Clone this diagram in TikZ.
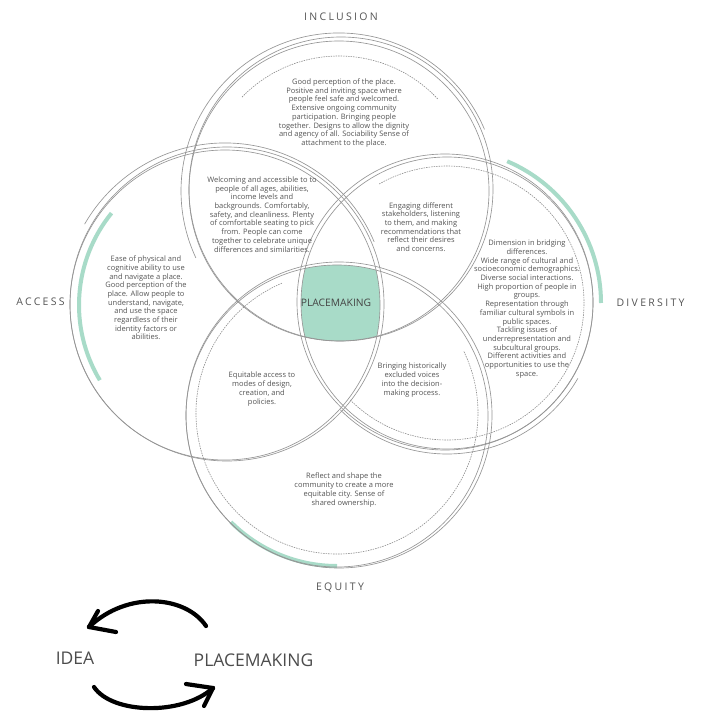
\documentclass[tikz,border=0pt]{standalone}
\usepackage{fontspec}
\setmainfont{Open Sans}
\newfontfamily\spacedfont[LetterSpace=22]{Open Sans}
\usetikzlibrary{arrows.meta}
\definecolor{mint}{HTML}{A8DBC8}
\definecolor{linegray}{HTML}{969696}
\definecolor{dashgray}{HTML}{8E8E8E}
\definecolor{txtgray}{HTML}{555555}
\begin{document}
\begin{tikzpicture}[x=1pt,y=-1pt,
  ring/.style={draw=linegray, line width=0.65pt},
  dashring/.style={draw=dashgray, line width=0.6pt, dash pattern=on 1.5pt off 1pt},
  greenarc/.style={draw=mint, line width=4pt},
  body/.style={align=center, text=txtgray, font=\fontsize{7.5}{8.7}\selectfont, inner sep=0pt},
  lab/.style={text=txtgray, font=\spacedfont\fontsize{10.5}{12}\selectfont, inner sep=0pt},
  big/.style={text=txtgray!90!black, font=\fontsize{17.5}{20}\selectfont, inner sep=0pt},
  cyc/.style={line width=4.2pt, line cap=round, line join=round},
]
\useasboundingbox (0,0) rectangle (701,711);
\fill[white] (0,0) rectangle (701,711);

\coordinate (cI) at (339,191);
\coordinate (cA) at (225,305);
\coordinate (cD) at (447,303);
\coordinate (cE) at (337,416);

% central intersection
\begin{scope}
  \clip (cA) circle[radius=155];
  \clip (cD) circle[radius=146];
  \clip (cE) circle[radius=151];
  \fill[mint] (cI) circle[radius=150];
\end{scope}

% green arcs
\draw[greenarc] (cA) ++(-141:146) arc[start angle=-141, end angle=-211, radius=146];
\draw[greenarc] (cD) ++(0:154) arc[start angle=0, end angle=-67, radius=154];
\draw[greenarc] (cE) ++(-225:150) arc[start angle=-225, end angle=-270, radius=150];

% main double circles
\draw[ring] (cI) circle[radius=150];
\draw[ring] (341,189) circle[radius=152];
\draw[ring] (cA) circle[radius=155];
\draw[ring] (227,304) circle[radius=157];
\draw[ring] (cD) circle[radius=146];
\draw[ring] (445,302) circle[radius=148];
\draw[ring] (cE) circle[radius=151];
\draw[ring] (339,415) circle[radius=153];

% extra outer arcs
\draw[ring, line cap=round] (cI) ++(-23:158) arc[start angle=-23, end angle=-205, radius=158];
\draw[ring, line cap=round] (cA) ++(-23:162) arc[start angle=-23, end angle=-150, radius=162];
\draw[ring, line cap=round] (cD) ++(-225:151) arc[start angle=-225, end angle=-330, radius=151];

% dashed inner arcs
\draw[dashring] (cI) ++(-43:135) arc[start angle=-43, end angle=-136, radius=135];
\draw[dashring] (cD) ++(-225:137) arc[start angle=-225, end angle=-480, radius=137];
\draw[dashring] (337,413) ++(-113:141) arc[start angle=-113, end angle=-386, radius=141];

% labels
\node[lab] (lInc) at (341,16.5) {INCLUSION};
\node[lab] (lAcc) at (40.5,302) {ACCESS};
\node[lab] (lDiv) at (650.5,303) {DIVERSITY};
\node[lab] (lEq) at (340,588) {EQUITY};

\node[text=txtgray!80!black, font=\fontsize{10.3}{12}\selectfont, inner sep=0pt] (pm) at (336,303) {PLACEMAKING};

% texts
\node[body] (tInc) at (344,113) {Good perception of the place.\\ Positive and inviting space where\\ people feel safe and welcomed.\\ Extensive ongoing community\\ participation. Bringing people\\ together. Designs to allow the dignity\\ and agency of all. Sociability Sense of\\ attachment to the place.};
\node[body] (tIA) at (262,214.5) {Welcoming and accessible to to\\ people of all ages, abilities,\\ income levels and\\ backgrounds. Comfortably,\\ safety, and cleanliness. Plenty\\ of comfortable seating to pick\\ from. People can come\\ together to celebrate unique\\ differences and similarities.};
\node[body] (tID) at (421,227) {Engaging different\\ stakeholders, listening\\ to them, and making\\ recommendations that\\ reflect their desires\\ and concerns.};
\node[body] (tAcc) at (146,298) {Ease of physical and\\ cognitive ability to use\\ and navigate a place.\\ Good perception of the\\ place. Allow people to\\ understand, navigate,\\ and use the space\\ regardless of their\\ identity factors or\\ abilities.};
\node[body] (tDiv) at (527,309) {Dimension in bridging\\ differences.\\ Wide range of cultural and\\ socioeconomic demographics.\\ Diverse social interactions.\\ High proportion of people in\\ groups.\\ Representation through\\ familiar cultural symbols in\\ public spaces.\\ Tackling issues of\\ underrepresentation and\\ subcultural groups.\\ Different activities and\\ opportunities to use the\\ space.};
\node[body] (tAE) at (262,389) {Equitable access to\\ modes of design,\\ creation, and\\ policies.};
\node[body] (tDE) at (412,380) {Bringing historically\\ excluded voices\\ into the decision-\\ making process.};
\node[body] (tEq) at (344,490) {Reflect and shape the\\ community to create a more\\ equitable city. Sense of\\ shared ownership.};

% bottom cycle
\node[big] (idea) at (75,658) {IDEA};
\node[big] (pm2) at (253.5,660) {PLACEMAKING};
\coordinate (a1s) at (206,626);
\coordinate (a1e) at (89,627);
\coordinate (a2s) at (94,687);
\coordinate (a2e) at (213,688);
\draw[cyc] (a1s) .. controls (186,596) and (128,590) .. (a1e);
\draw[cyc] (a1e) -- ++(27,5);
\draw[cyc] (a1e) -- ++(9,-16);
\draw[cyc] (a2s) .. controls (112,714) and (182,716) .. (a2e);
\draw[cyc] (a2e) -- ++(-27,-4);
\draw[cyc] (a2e) -- ++(-9,18);
\end{tikzpicture}
\end{document}
